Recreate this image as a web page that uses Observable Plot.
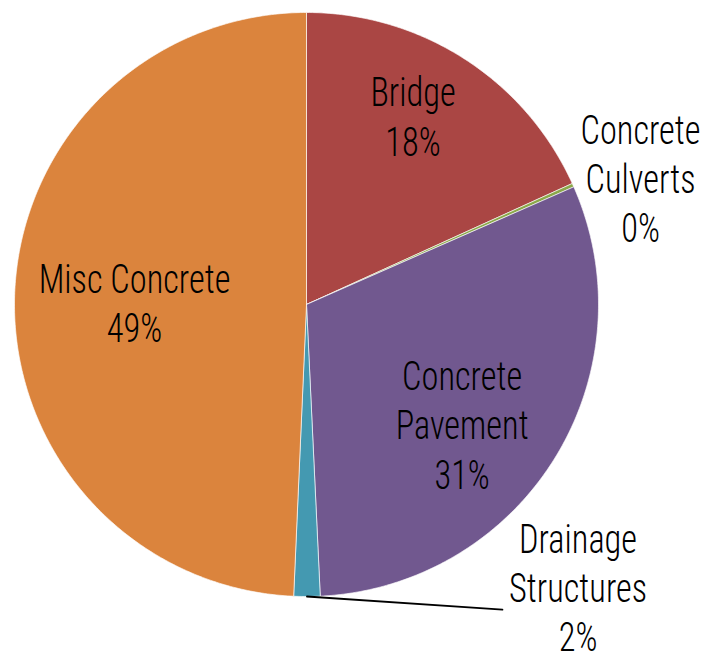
<!DOCTYPE html>
<html>
<head>
<meta charset="utf-8">
<script src="https://cdn.jsdelivr.net/npm/d3@7"></script>
<script src="https://cdn.jsdelivr.net/npm/@observablehq/plot@0.6"></script>
<style>
  html, body { margin: 0; padding: 0; background: #fff; }
  #chart { width: 715px; height: 656px; }
</style>
</head>
<body>
<div id="chart"></div>
<script>
// ---- data ----
const categories = ["Bridge", "Concrete Culverts", "Concrete Pavement", "Drainage Structures", "Misc Concrete"];
const values = [18.2, 0.2, 30.85, 1.45, 49.3];
const pctLabels = ["18%", "0%", "31%", "2%", "49%"];
const labelLines = [["Bridge"], ["Concrete", "Culverts"], ["Concrete", "Pavement"], ["Drainage", "Structures"], ["Misc Concrete"]];
const colors = ["#AA4644", "#8BA84A", "#71588F", "#4499B1", "#DB843D"];

// ---- layout (pixels) ----
const W = 715, H = 656, cx = 306, cy = 304, r = 292;
// label anchor positions in unit-circle coordinates (x right, y up)
const labelPos = [[0.365, 0.648], [1.144, 0.435], [0.533, -0.408], [0.930, -0.965], [-0.589, 0.010]];
const leaderEnd = [0.671, -1.045];
const textScaleX = 0.86;

const pie = d3.pie().sort(null).value(d => d)(values);
const toXY = (a, k = 1) => [k * Math.sin(a), k * Math.cos(a)];

const polys = [];
pie.forEach((p, i) => {
  polys.push({cat: categories[i], x: 0, y: 0});
  const n = Math.max(2, Math.ceil((p.endAngle - p.startAngle) / 0.01));
  for (let j = 0; j <= n; j++) {
    const a = p.startAngle + (p.endAngle - p.startAngle) * j / n;
    const [x, y] = toXY(a);
    polys.push({cat: categories[i], x, y});
  }
  polys.push({cat: categories[i], x: 0, y: 0});
});

const labels = categories.map((c, i) => ({
  x: labelPos[i][0], y: labelPos[i][1],
  text: labelLines[i].concat([pctLabels[i]]).join("\n")
}));

const dIdx = categories.indexOf("Drainage Structures");
const dMid = (pie[dIdx].startAngle + pie[dIdx].endAngle) / 2;
const leader = [
  {x: toXY(dMid, 1.0)[0], y: toXY(dMid, 1.0)[1]},
  {x: leaderEnd[0], y: leaderEnd[1]}
];

const chart = Plot.plot({
  width: W, height: H,
  margin: 0,
  x: {domain: [-cx / r, (W - cx) / r], range: [0, W], axis: null},
  y: {domain: [cy / r, -(H - cy) / r], range: [0, H], axis: null},
  style: {background: "#fff"},
  marks: [
    ...categories.map((c, i) => Plot.line(polys.filter(d => d.cat === c), {
      x: "x", y: "y", fill: colors[i], stroke: "#fff", strokeWidth: 0.8, strokeOpacity: 0.8, curve: "linear"
    })),
    Plot.line(leader, {x: "x", y: "y", stroke: "#000", strokeWidth: 1.8}),
    Plot.text(labels, {
      x: "x", y: "y", text: "text",
      fontSize: 40, lineHeight: 1.23, fontWeight: 300,
      fontFamily: "'Roboto Condensed', 'Liberation Sans Narrow', sans-serif",
      fill: "#000", textAnchor: "middle", lineAnchor: "middle"
    })
  ]
});
// narrow the glyphs horizontally around each label's anchor
d3.select(chart).selectAll('g[aria-label="text"] text').each(function() {
  const t = this.getAttribute("transform") || "";
  this.setAttribute("transform", t + ` scale(${textScaleX},1)`);
});
document.getElementById("chart").appendChild(chart);
</script>
</body>
</html>
